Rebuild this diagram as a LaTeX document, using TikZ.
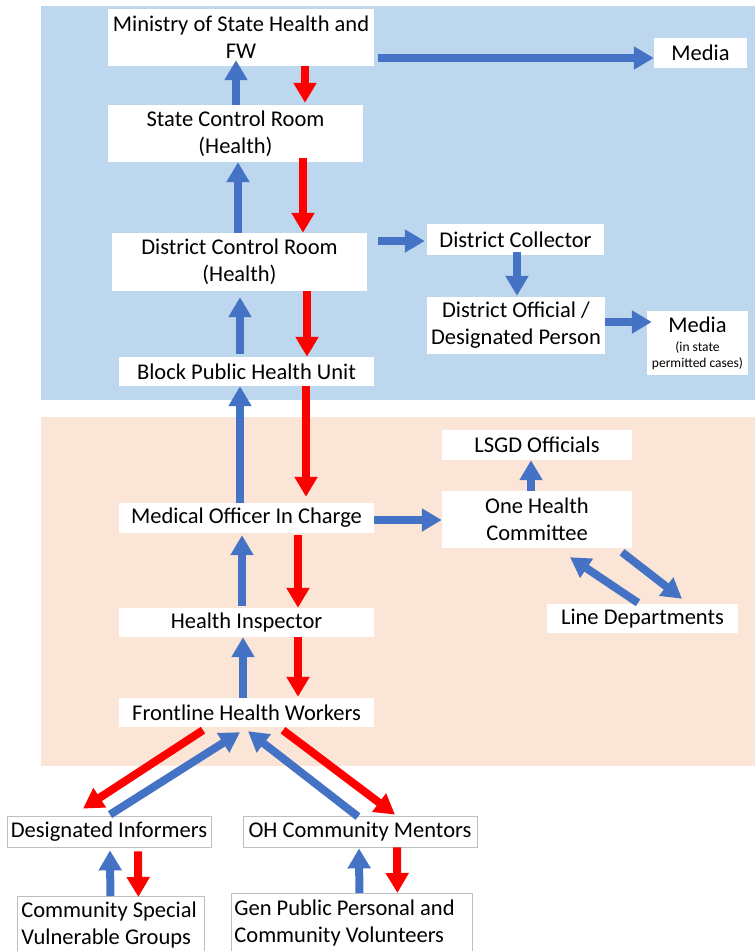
\documentclass[tikz,border=0pt]{standalone}
\usepackage{fontspec}
\setmainfont{Carlito}
\usetikzlibrary{arrows.meta}
\definecolor{bgblue}{HTML}{BDD7EE}
\definecolor{bgpink}{HTML}{FBE5D6}
\definecolor{arrblue}{HTML}{4472C4}
\definecolor{arrred}{HTML}{FF0000}
\definecolor{boxgray}{HTML}{BFBFBF}
\begin{document}
\begin{tikzpicture}[x=1pt,y=-1pt,
  box/.style={fill=white, inner sep=0pt, align=center, font=\fontsize{22.5}{27}\selectfont},
  gbox/.style={box, draw=boxgray, line width=0.8pt},
  bluearr/.style={draw=arrblue, line width=8pt, -{Triangle[width=22pt,length=20pt]}},
  redarr/.style={draw=arrred, line width=8pt, -{Triangle[width=22pt,length=20pt]}},
]
\useasboundingbox (0,0) rectangle (755,951);
\clip (0,0) rectangle (755,951);
\fill[white] (0,0) rectangle (755,951);
% panels
\fill[bgblue] (41,6) rectangle (755,400);
\fill[bgpink] (41,417) rectangle (755,766);
% nodes
\node[box, minimum width=266pt, minimum height=57pt] (min) at (241,37.5) {Ministry of State Health and\\FW};
\node[box, minimum width=255pt, minimum height=57pt] (scr) at (235.5,133.5) {State Control Room\\(Health)};
\node[box, minimum width=255pt, minimum height=58pt] (dcr) at (239.5,262) {District Control Room\\(Health)};
\node[box, minimum width=255pt, minimum height=29pt] (bphu) at (246.5,371.5) {Block Public Health Unit};
\node[box, minimum width=93pt, minimum height=30pt] (media1) at (700.5,53) {Media};
\node[box, minimum width=177pt, minimum height=31pt] (dc) at (515.5,239.5) {District Collector};
\node[box, minimum width=178pt, minimum height=57pt] (do) at (516,325.5) {District Official /\\Designated Person};
\node[box, minimum width=101pt, minimum height=64pt, font=\fontsize{13.5}{16}\selectfont] (media2) at (697.5,343) {{\fontsize{22.5}{27}\selectfont Media}\\[3pt](in state\\permitted cases)};
\node[box, minimum width=255pt, minimum height=30pt] (moic) at (246.5,518) {Medical Officer In Charge};
\node[box, minimum width=255pt, minimum height=29pt] (hi) at (246.5,622.5) {Health Inspector};
\node[box, minimum width=190pt, minimum height=30pt] (lsgd) at (537,445) {LSGD Officials};
\node[box, minimum width=190pt, minimum height=57pt] (ohc) at (537,519.5) {One Health\\Committee};
\node[box, minimum width=191pt, minimum height=29pt] (ld) at (642.5,618.5) {Line Departments};
\node[box, minimum width=255pt, minimum height=29pt] (fhw) at (246.5,712.5) {Frontline Health Workers};
\node[gbox, minimum width=204pt, minimum height=31pt] (di) at (109,831.5) {Designated Informers};
\node[gbox, minimum width=234pt, minimum height=31pt] (ohcm) at (360,831.5) {OH Community Mentors};
\node[gbox, anchor=north west, inner xsep=4pt, text width=179pt, align=flush left, minimum height=57pt] (csvg) at (17,896) {Community Special\\Vulnerable Groups};
\node[gbox, anchor=north west, inner xsep=3pt, text width=235pt, align=flush left, minimum height=60pt] (gppcv) at (231,893) {Gen Public Personal and\\Community Volunteers};
% arrows
\draw[bluearr] ([xshift=0.5pt]scr.north) -- ([xshift=-5pt,yshift=6pt]min.south);
\draw[redarr] ([xshift=64pt]min.south) -- ([xshift=69.5pt,yshift=2pt]scr.north);
\draw[bluearr] ([xshift=4pt,yshift=-20.5pt]min.east) -- ([yshift=-5pt]media1.west);
\draw[bluearr] ([xshift=-1.5pt]dcr.north) -- ([xshift=2.5pt]scr.south);
\draw[redarr] ([xshift=67.5pt,yshift=4pt]scr.south) -- ([xshift=63.5pt]dcr.north);
\draw[bluearr] ([xshift=11pt,yshift=21pt]dcr.east) -- ([xshift=-2pt,yshift=-1.5pt]dc.west);
\draw[bluearr] ([xshift=-6.5pt,yshift=3pt]bphu.north) -- ([xshift=0.5pt,yshift=-6pt]dcr.south);
\draw[redarr] ([xshift=67.5pt]dcr.south) -- ([xshift=60.5pt]bphu.north);
\draw[bluearr] ([xshift=1.5pt,yshift=3pt]dc.south) -- ([xshift=1pt,yshift=1pt]do.north);
\draw[bluearr] ([yshift=3.5pt]do.east) -- ([xshift=5pt,yshift=21pt]media2.west);
\draw[bluearr] ([xshift=-6.5pt]moic.north) -- ([xshift=-6.5pt]bphu.south);
\draw[redarr] ([xshift=59.5pt]bphu.south) -- ([xshift=59.5pt,yshift=6pt]moic.north);
\draw[bluearr] ([yshift=-2pt]moic.east) -- ([yshift=-0.5pt]ohc.west);
\draw[bluearr] ([xshift=-6pt]ohc.north) -- ([xshift=-6pt]lsgd.south);
\draw[bluearr] ([xshift=-4.5pt,yshift=2pt]hi.north) -- ([xshift=-4.5pt,yshift=-2pt]moic.south);
\draw[redarr] ([xshift=51.5pt,yshift=-2pt]moic.south) -- ([xshift=51.5pt]hi.north);
\draw[bluearr] ([xshift=-4.5pt,yshift=1pt]ld.north) -- ([xshift=33pt,yshift=-9pt]ohc.south);
\draw[bluearr] ([xshift=85pt,yshift=-4pt]ohc.south) -- ([xshift=39.5pt,yshift=5pt]ld.north);
\draw[bluearr] ([xshift=-3.5pt]fhw.north) -- ([xshift=-3.5pt]hi.south);
\draw[redarr] ([xshift=51.5pt]hi.south) -- ([xshift=51.5pt,yshift=1pt]fhw.north);
\draw[redarr] ([xshift=-43.5pt,yshift=-3pt]fhw.south) -- ([xshift=-26pt,yshift=7pt]di.north);
\draw[bluearr] ([xshift=1pt,yshift=1pt]di.north) -- ([xshift=-6.5pt,yshift=-5pt]fhw.south);
\draw[bluearr] ([xshift=-2pt,yshift=-1pt]ohcm.north) -- ([xshift=1.5pt,yshift=-4pt]fhw.south);
\draw[redarr] ([xshift=36.5pt,yshift=-3pt]fhw.south) -- ([xshift=35pt,yshift=1pt]ohcm.north);
\draw[bluearr] ([xshift=-0.5pt]csvg.north) -- ([xshift=1pt,yshift=-3pt]di.south);
\draw[redarr] ([xshift=29pt,yshift=-4pt]di.south) -- ([xshift=27.5pt,yshift=-1pt]csvg.north);
\draw[bluearr] ([xshift=7.5pt]gppcv.north) -- ([xshift=-1pt,yshift=-1pt]ohcm.south);
\draw[redarr] ([xshift=37pt]ohcm.south) -- ([xshift=45.5pt]gppcv.north);
\end{tikzpicture}
\end{document}
